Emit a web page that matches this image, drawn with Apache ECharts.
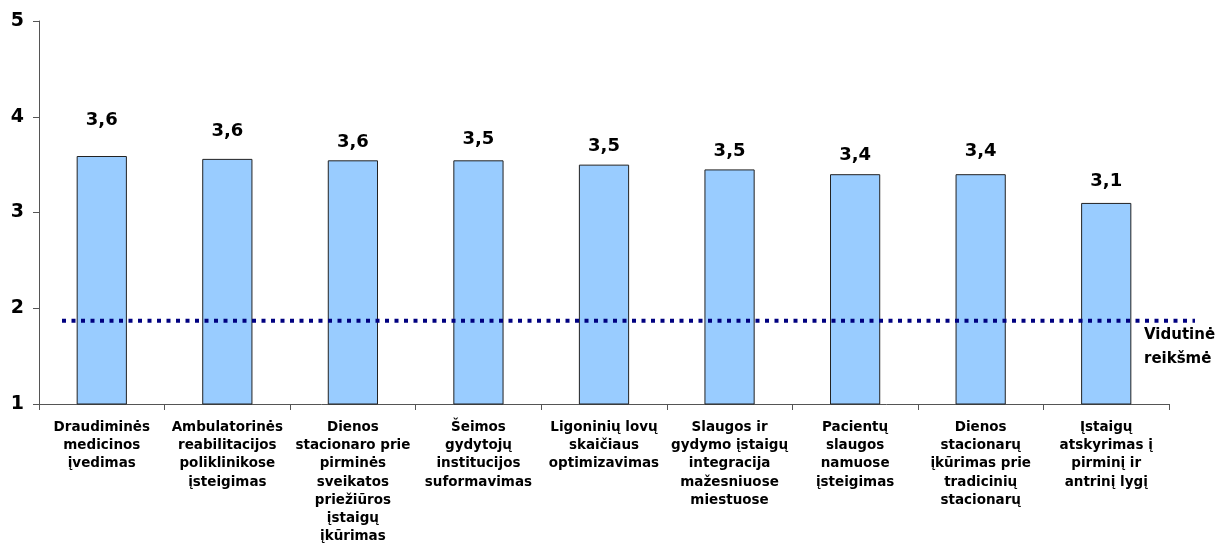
<!DOCTYPE html>
<html>
<head>
<meta charset="utf-8">
<script src="https://cdn.jsdelivr.net/npm/echarts@6/dist/echarts.min.js"></script>
<style>
html, body { margin: 0; padding: 0; background: #fff; }
#chart { width: 1216px; height: 545px; }
</style>
</head>
<body>
<div id="chart"></div>
<script>
var categories = [
    'Draudiminės\nmedicinos\nįvedimas',
    'Ambulatorinės\nreabilitacijos\npoliklinikose\nįsteigimas',
    'Dienos\nstacionaro prie\npirminės\nsveikatos\npriežiūros\nįstaigų\nįkūrimas',
    'Šeimos\ngydytojų\ninstitucijos\nsuformavimas',
    'Ligoninių lovų\nskaičiaus\noptimizavimas',
    'Slaugos ir\ngydymo įstaigų\nintegracija\nmažesniuose\nmiestuose',
    'Pacientų\nslaugos\nnamuose\nįsteigimas',
    'Dienos\nstacionarų\nįkūrimas prie\ntradicinių\nstacionarų',
    'Įstaigų\natskyrimas į\npirminį ir\nantrinį lygį'
];
var values = [3.59, 3.56, 3.545, 3.545, 3.50, 3.45, 3.40, 3.40, 3.10];
var valueLabels = ['3,6', '3,6', '3,6', '3,5', '3,5', '3,5', '3,4', '3,4', '3,1'];
var average = 1.87;
var averageLabel = 'Vidutinė\nreikšmė';
var yTicks = [1, 2, 3, 4, 5];

// label gap above each bar (style only)
var labelGap = [27, 19, 9, 12, 9, 9, 10, 14, 13];

var chart = echarts.init(document.getElementById('chart'));

var barData = [];
for (var i = 0; i < values.length; i++) {
    barData.push({
        value: values[i],
        label: { distance: labelGap[i] }
    });
}

var option = {
    animation: false,
    textStyle: { fontFamily: 'DejaVu Sans' },
    grid: [
        { left: 39, right: 47, top: 21, bottom: 141, outerBoundsMode: 'none', containLabel: false },
        { left: 62, right: 21, top: 21, bottom: 141, outerBoundsMode: 'none', containLabel: false }
    ],
    xAxis: [
        {
            type: 'category',
            gridIndex: 0,
            data: categories,
            axisLine: { lineStyle: { color: '#555', width: 1 } },
            axisTick: { show: true, length: 6, lineStyle: { color: '#555' } },
            axisLabel: {
                interval: 0,
                color: '#000',
                fontWeight: 'bold',
                fontSize: 13.5,
                lineHeight: 18.3,
                margin: 14,
                fontFamily: 'DejaVu Sans'
            }
        },
        {
            type: 'value',
            gridIndex: 1,
            min: 0,
            max: 1,
            show: false
        }
    ],
    yAxis: [
        {
            type: 'value',
            gridIndex: 0,
            min: 1,
            max: 5,
            interval: 1,
            axisLine: { show: true, lineStyle: { color: '#555', width: 1 } },
            axisTick: { show: true, length: 6, lineStyle: { color: '#555' } },
            splitLine: { show: false },
            axisLabel: {
                color: '#000',
                fontWeight: 'bold',
                fontSize: 19,
                margin: 15,
                fontFamily: 'DejaVu Sans',
                formatter: function (v) { return yTicks.indexOf(v) >= 0 ? String(v) : ''; }
            }
        },
        {
            type: 'value',
            gridIndex: 1,
            min: 1,
            max: 5,
            show: false
        }
    ],
    series: [
        {
            type: 'bar',
            xAxisIndex: 0,
            yAxisIndex: 0,
            barWidth: '40%',
            data: barData,
            itemStyle: {
                color: '#99CCFF',
                borderColor: '#222',
                borderWidth: 1
            },
            label: {
                show: true,
                position: 'top',
                color: '#000',
                fontWeight: 'bold',
                fontSize: 18,
                fontFamily: 'DejaVu Sans',
                formatter: function (p) { return valueLabels[p.dataIndex]; }
            },
            z: 2
        },
        {
            type: 'line',
            xAxisIndex: 1,
            yAxisIndex: 1,
            data: [[0, average], [1, average]],
            symbol: 'none',
            lineStyle: {
                color: '#000080',
                width: 4,
                type: [4, 5.5],
                cap: 'butt'
            },
            z: 3
        }
    ],
    graphic: [
        {
            type: 'text',
            left: 1144,
            top: 323,
            style: {
                text: averageLabel,
                fill: '#000',
                font: 'bold 15px "DejaVu Sans"',
                lineHeight: 24,
                textAlign: 'left'
            }
        }
    ]
};

chart.setOption(option);
</script>
</body>
</html>
